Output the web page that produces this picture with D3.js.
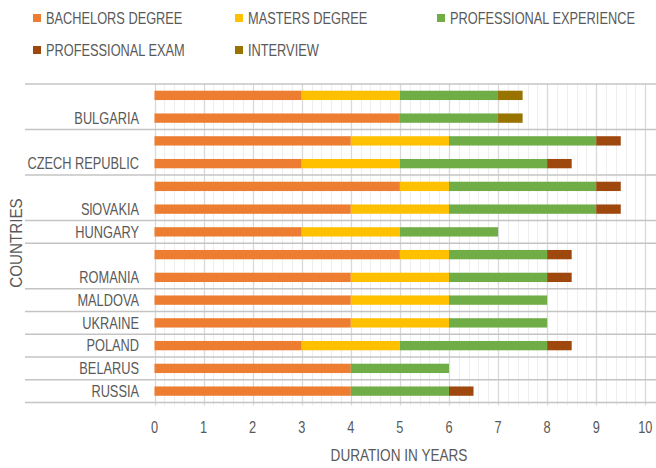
<!DOCTYPE html>
<html>
<head>
<meta charset="utf-8">
<script src="https://cdn.jsdelivr.net/npm/d3@7"></script>
<style>
  html, body { margin: 0; padding: 0; background: #fff; }
  svg text { font-family: "Liberation Sans", Arial, sans-serif; fill: #595959; }
</style>
</head>
<body>
<svg id="chart" width="656" height="468"></svg>
<script>
// ---- DATA ----
const rowCountry = ["BULGARIA","BULGARIA","CZECH REPUBLIC","CZECH REPUBLIC","SlOVAKIA","SlOVAKIA","HUNGARY","ROMANIA","ROMANIA","MALDOVA","UKRAINE","POLAND","BELARUS","RUSSIA"];
const seriesNames = ["BACHELORS DEGREE","MASTERS DEGREE","PROFESSIONAL EXPERIENCE","PROFESSIONAL EXAM","INTERVIEW"];
const bachelors      = [3, 5, 4, 3, 5, 4, 3, 5, 4, 4, 4, 3, 4, 4];
const masters        = [2, 0, 2, 2, 1, 2, 2, 1, 2, 2, 2, 2, 0, 0];
const profExperience = [2, 2, 3, 3, 3, 3, 2, 2, 2, 2, 2, 3, 2, 2];
const profExam       = [0, 0, 0.5, 0.5, 0.5, 0.5, 0, 0.5, 0.5, 0, 0, 0.5, 0, 0.5];
const interview      = [0.5, 0.5, 0, 0, 0, 0, 0, 0, 0, 0, 0, 0, 0, 0];
const xTicks = [0,1,2,3,4,5,6,7,8,9,10];
const xTitle = "DURATION IN YEARS";
const yTitle = "COUNTRIES";

const colors = ["#ED7D31","#FFC000","#70AD47","#9E480E","#997300"];

// ---- build table ----
const seriesVals = [bachelors, masters, profExperience, profExam, interview];
const table = rowCountry.map((c, i) => {
  const o = { idx: i, country: c };
  seriesNames.forEach((s, k) => o[s] = seriesVals[k][i]);
  return o;
});
const stacked = d3.stack().keys(seriesNames)(table);

const svg = d3.select("#chart");
const plotTop = 84, plotBottom = 402.5, plotLeft = 154.5, plotRight = 655;
const SX = 0.8; // horizontal condensing of text

const x = d3.scaleLinear().domain([0, 10]).range([plotLeft, 645.3]);
const y = d3.scaleBand().domain(d3.range(rowCountry.length)).range([plotTop, plotBottom]).paddingInner(0.59).paddingOuter(0.295);
const rowStep = y.step();

// minor gridlines
const minor = d3.range(0, 10.0001, 0.2).filter(v => Math.abs(v - Math.round(v)) > 1e-6);
svg.append("g").selectAll("line").data(minor).join("line")
  .attr("x1", d => Math.round(x(d)) + 0.5).attr("x2", d => Math.round(x(d)) + 0.5)
  .attr("y1", plotTop).attr("y2", plotBottom + 3)
  .attr("stroke", "#eeeeee").attr("stroke-width", 1);
// major gridlines
svg.append("g").selectAll("line").data(xTicks).join("line")
  .attr("x1", d => Math.round(x(d)) + 0.5).attr("x2", d => Math.round(x(d)) + 0.5)
  .attr("y1", plotTop).attr("y2", plotBottom + 3)
  .attr("stroke", "#d9d9d9").attr("stroke-width", 1.3);

// group separators
const boundaries = [0];
rowCountry.forEach((c, i) => { if (i > 0 && c !== rowCountry[i - 1]) boundaries.push(i); });
boundaries.push(rowCountry.length);
svg.append("g").selectAll("line").data(boundaries).join("line")
  .attr("x1", 25).attr("x2", plotRight + 1)
  .attr("y1", d => plotTop + d * rowStep).attr("y2", d => plotTop + d * rowStep)
  .attr("stroke", "#c4c4c4").attr("stroke-width", 1.3);

// bars
svg.append("g").selectAll("g").data(stacked).join("g")
  .attr("fill", (d, i) => colors[i])
  .selectAll("rect").data(d => d.filter(s => s[1] - s[0] > 0)).join("rect")
  .attr("x", d => x(d[0]))
  .attr("width", d => x(d[1]) - x(d[0]))
  .attr("y", d => y(d.data.idx))
  .attr("height", y.bandwidth());

// country labels (at last row of each group)
const labelRows = rowCountry.map((c, i) => i).filter(i => i === rowCountry.length - 1 || rowCountry[i + 1] !== rowCountry[i]);
svg.append("g").selectAll("text").data(labelRows).join("text")
  .attr("transform", i => `translate(139,${y(i) + y.bandwidth() / 2}) scale(${SX},1)`)
  .attr("dy", "0.36em").attr("text-anchor", "end")
  .attr("font-size", 16).text(i => rowCountry[i]);

// x tick labels
svg.append("g").selectAll("text").data(xTicks).join("text")
  .attr("transform", d => `translate(${x(d)},433) scale(${SX},1)`).attr("text-anchor", "middle")
  .attr("font-size", 16).text(d => d);

// axis titles
svg.append("text").attr("transform", `translate(399,461) scale(0.85,1)`).attr("text-anchor", "middle")
  .attr("font-size", 16).text(xTitle);
svg.append("text").attr("transform", "translate(22,243) rotate(-90) scale(0.95,1)").attr("text-anchor", "middle")
  .attr("font-size", 16).text(yTitle);

// legend
const legendPos = [[33, 18], [235, 18], [437, 18], [33, 50], [235, 50]];
const lg = svg.append("g").selectAll("g").data(seriesNames).join("g")
  .attr("transform", (d, i) => `translate(${legendPos[i][0]},${legendPos[i][1]})`);
lg.append("rect").attr("x", 0).attr("y", -4).attr("width", 8).attr("height", 8).attr("fill", (d, i) => colors[i]);
lg.append("text").attr("transform", `translate(13,0) scale(${SX},1)`).attr("dy", "0.36em").attr("font-size", 16).text(d => d);
</script>
</body>
</html>
